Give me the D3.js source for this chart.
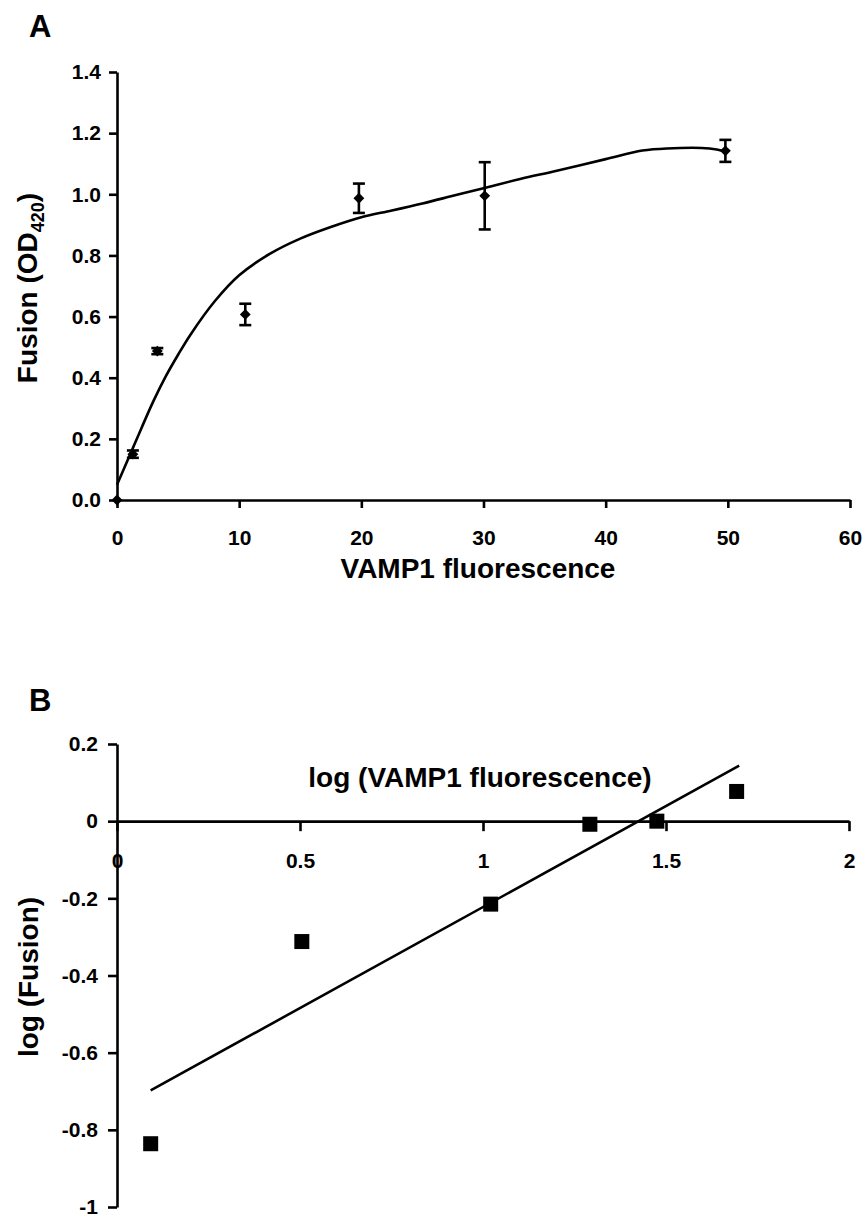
<!DOCTYPE html>
<html><head><meta charset="utf-8">
<script src="https://cdn.jsdelivr.net/npm/d3@7"></script>
<style>
body{margin:0;background:#fff}
svg text{font-family:"Liberation Sans",Arial,Helvetica,sans-serif;font-weight:bold;fill:#000}
</style></head>
<body><svg id="chart" width="862" height="1220"></svg>
<script>
// ---- Panel A data ----
const fusionX   = [0, 1.3, 3.3, 10.5, 19.8, 30.1, 49.8];
const fusionY   = [0, 0.15, 0.487, 0.607, 0.987, 0.995, 1.142];
const fusionErr = [0, 0.012, 0.01, 0.035, 0.048, 0.11, 0.036];
const fitX = [0, 1, 2, 3, 4, 5, 6, 8, 10, 12.5, 15, 17.5, 20, 22.5, 25, 27.5, 30, 33, 36, 40, 43, 45, 48.5, 49.8];
const fitY = [0.05, 0.142, 0.235, 0.325, 0.405, 0.475, 0.54, 0.65, 0.735, 0.805, 0.855, 0.893, 0.925, 0.947, 0.97, 0.995, 1.02, 1.05, 1.077, 1.115, 1.143, 1.15, 1.15, 1.14];
const xTicksA = [0, 10, 20, 30, 40, 50, 60];
const yTicksA = [0, 0.2, 0.4, 0.6, 0.8, 1.0, 1.2, 1.4];

// ---- Panel B data ----
const logX = [0.092, 0.505, 1.021, 1.292, 1.475, 1.693];
const logY = [-0.836, -0.312, -0.215, -0.008, 0.0, 0.077];
const trendX = [0.092, 1.70];
const trendY = [-0.698, 0.144];
const xTicksB = [0, 0.5, 1, 1.5, 2];
const yTicksB = [0.2, 0, -0.2, -0.4, -0.6, -0.8, -1];

const svg = d3.select("#chart");
svg.append("rect").attr("width",862).attr("height",1220).attr("fill","#fff");
const SW = 2.6;

function styleAxis(g, fs){
  g.select(".domain").attr("stroke","#000").attr("stroke-width",SW);
  g.selectAll(".tick line").attr("stroke","#000").attr("stroke-width",SW);
  g.selectAll(".tick text").attr("font-size",fs).attr("fill","#000")
    .style("font-family",'"Liberation Sans",Arial,sans-serif').style("font-weight","bold");
  g.attr("font-family",null);
}

// ================= Panel A =================
const xA = d3.scaleLinear().domain([0,60]).range([117,850]);
const yA = d3.scaleLinear().domain([0,1.4]).range([500,72]);

svg.append("text").attr("x",29).attr("y",37).attr("font-size",31).text("A");

const gxA = svg.append("g").attr("transform",`translate(0,${yA(0)})`)
  .call(d3.axisBottom(xA).tickValues(xTicksA).tickFormat(d3.format("d")).tickSize(8).tickSizeOuter(0).tickPadding(22));
styleAxis(gxA, 21);
const gyA = svg.append("g").attr("transform",`translate(${xA(0)},0)`)
  .call(d3.axisLeft(yA).tickValues(yTicksA).tickFormat(d3.format(".1f")).tickSize(8).tickSizeOuter(0).tickPadding(8));
styleAxis(gyA, 21);

// fit curve
const fitData = fitX.map((x,i)=>[x,fitY[i]]);
svg.append("path").datum(fitData)
  .attr("d", d3.line().x(d=>xA(d[0])).y(d=>yA(d[1])).curve(d3.curveCatmullRom.alpha(0.5)))
  .attr("fill","none").attr("stroke","#000").attr("stroke-width",SW);

// error bars + diamonds
const ptsA = fusionX.map((x,i)=>({x, y:fusionY[i], e:fusionErr[i]}));
const eb = svg.append("g").attr("stroke","#000").attr("stroke-width",SW);
ptsA.filter(d=>d.e>0).forEach(d=>{
  const cx = xA(d.x);
  eb.append("line").attr("x1",cx).attr("x2",cx).attr("y1",yA(d.y+d.e)).attr("y2",yA(d.y-d.e));
  eb.append("line").attr("x1",cx-6).attr("x2",cx+6).attr("y1",yA(d.y+d.e)).attr("y2",yA(d.y+d.e));
  eb.append("line").attr("x1",cx-6).attr("x2",cx+6).attr("y1",yA(d.y-d.e)).attr("y2",yA(d.y-d.e));
});
svg.append("g").selectAll("path").data(ptsA).join("path")
  .attr("transform",d=>`translate(${xA(d.x)},${yA(d.y)})`)
  .attr("d", d3.symbol(d3.symbolDiamond2, 75))
  .attr("fill","#000");

// axis labels A
svg.append("text").attr("x",478).attr("y",578).attr("text-anchor","middle").attr("font-size",28).text("VAMP1 fluorescence");
const ylA = svg.append("text").attr("transform","translate(37,288) rotate(-90)").attr("text-anchor","middle").attr("font-size",28);
ylA.append("tspan").text("Fusion (OD");
ylA.append("tspan").attr("font-size",18).attr("dy",7).text("420");
ylA.append("tspan").attr("dy",-7).text(")");

// ================= Panel B =================
const xB = d3.scaleLinear().domain([0,2]).range([117,849]);
const yB = d3.scaleLinear().domain([-1,0.2]).range([1207,744]);

svg.append("text").attr("x",29).attr("y",711).attr("font-size",31).text("B");

const fmtB = d => String(Math.round(d*10)/10);
const gyB = svg.append("g").attr("transform",`translate(${xB(0)},0)`)
  .call(d3.axisLeft(yB).tickValues(yTicksB).tickFormat(fmtB).tickSize(9).tickSizeOuter(0).tickPadding(10));
styleAxis(gyB, 21);
const gxB = svg.append("g").attr("transform",`translate(0,${yB(0)})`)
  .call(d3.axisBottom(xB).tickValues(xTicksB).tickFormat(fmtB).tickSize(10).tickSizeOuter(0).tickPadding(22));
styleAxis(gxB, 21);

// trend line
const trendData = trendX.map((x,i)=>[x,trendY[i]]);
svg.append("path").datum(trendData)
  .attr("d", d3.line().x(d=>xB(d[0])).y(d=>yB(d[1])))
  .attr("fill","none").attr("stroke","#000").attr("stroke-width",SW);

// squares
const ptsB = logX.map((x,i)=>({x, y:logY[i]}));
const S = 15;
svg.append("g").selectAll("rect").data(ptsB).join("rect")
  .attr("x",d=>xB(d.x)-S/2).attr("y",d=>yB(d.y)-S/2).attr("width",S).attr("height",S).attr("fill","#000");

svg.append("text").attr("x",480).attr("y",787).attr("text-anchor","middle").attr("font-size",28).text("log (VAMP1 fluorescence)");
svg.append("text").attr("transform","translate(38,977) rotate(-90)").attr("text-anchor","middle").attr("font-size",28).text("log (Fusion)");
</script></body></html>
